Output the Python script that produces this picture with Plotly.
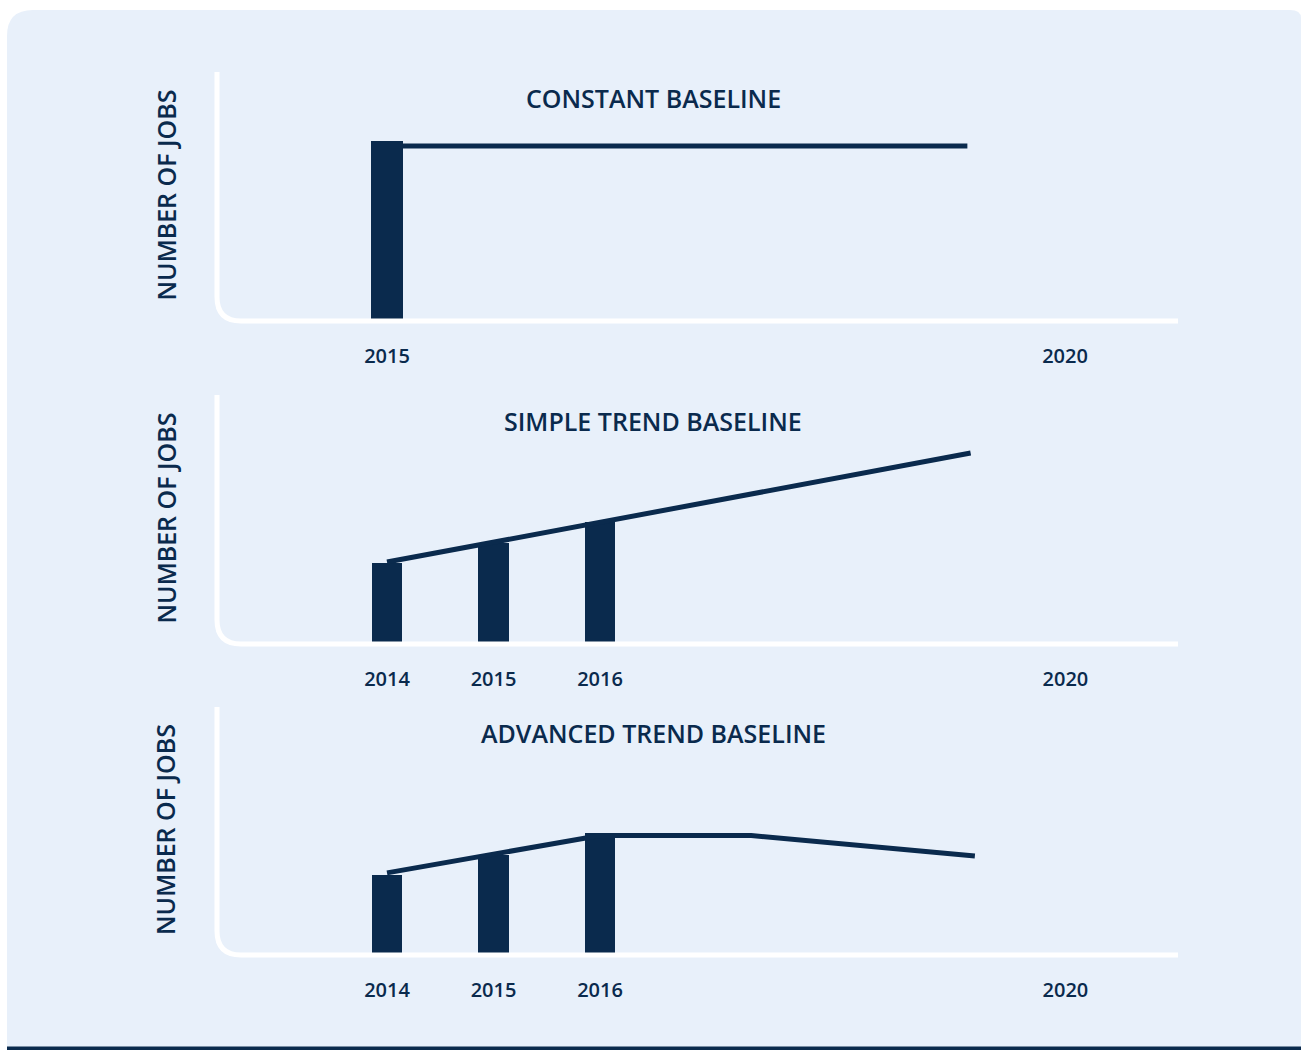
import plotly.graph_objects as go
from plotly.subplots import make_subplots

# ---------------- data ----------------
panel_titles = ["CONSTANT BASELINE", "SIMPLE TREND BASELINE", "ADVANCED TREND BASELINE"]
y_title = "NUMBER OF JOBS"

# bars (observed years)
bars1_x = [2015]
bars1_y = [72.3]
bars2_x = [2014, 2015, 2016]
bars2_y = [32.5, 40.6, 49.0]
bars3_x = [2014, 2015, 2016]
bars3_y = [32.3, 40.3, 49.2]

# baseline projection lines
line1_x = [2015.0, 2019.28]
line1_y = [70.3, 70.3]
line2_x = [2014.0, 2019.48]
line2_y = [32.9, 76.7]
line3_x = [2014.0, 2016.0, 2017.42, 2019.52]
line3_y = [33.1, 48.2, 48.2, 39.9]

# tick labels
ticks1_text = ["2015", "2020"]
ticks1_pos = [2015, 2020]
ticks23_text = ["2014", "2015", "2016", "2020"]
ticks23_pos = [2014, 2015, 2016, 2020.37]

# ---------------- style ----------------
W, H = 1301, 1050
NAVY = "#0a2a4d"
BG = "#e8f0fa"
FONT = "Open Sans"

def px(x):
    return x / W

def py(y):
    return 1 - y / H

# panel geometry in pixels: (top, baseline)
panels = [(72, 321), (395, 644), (707, 955)]
x_left, x_right = 217, 1178

# x scales: (anchor year, anchor pixel, pixels per year, bar width in years)
scales = [(2015, 387, 135.6, 0.229), (2014, 387, 106.5, 0.29), (2014, 387, 106.5, 0.29)]

fig = make_subplots(rows=3, cols=1)

bars = [(bars1_x, bars1_y), (bars2_x, bars2_y), (bars3_x, bars3_y)]
lines = [(line1_x, line1_y), (line2_x, line2_y), (line3_x, line3_y)]
ticks = [(ticks1_pos, ticks1_text), (ticks23_pos, ticks23_text), (ticks23_pos, ticks23_text)]

for i in range(3):
    r = i + 1
    a_year, a_px, ppy, bw = scales[i]
    x0_val = a_year - (a_px - x_left) / ppy
    x1_val = a_year + (x_right - a_px) / ppy
    fig.add_trace(go.Scatter(x=lines[i][0], y=lines[i][1], mode="lines",
                             line=dict(color=NAVY, width=5), hoverinfo="skip",
                             showlegend=False), row=r, col=1)
    fig.add_trace(go.Bar(x=bars[i][0], y=bars[i][1], width=bw,
                         marker=dict(color=NAVY, line=dict(width=0)),
                         showlegend=False), row=r, col=1)
    top, base = panels[i]
    xa = "xaxis" if i == 0 else f"xaxis{r}"
    ya = "yaxis" if i == 0 else f"yaxis{r}"
    fig.layout[xa].update(domain=[px(x_left), px(x_right)], range=[x0_val, x1_val],
                          showgrid=False, zeroline=False, showline=False,
                          tickmode="array", tickvals=ticks[i][0], ticktext=ticks[i][1],
                          ticks="", tickfont=dict(family=FONT, size=20, color=NAVY, weight=600),
                          ticklabelstandoff=21)
    fig.layout[ya].update(domain=[py(base), py(top)], range=[0, 100],
                          showgrid=False, zeroline=False, showline=False,
                          showticklabels=False)
    # axis frame with rounded corner
    r_c = 24
    path = (f"M {px(x_left)} {py(top)} L {px(x_left)} {py(base - r_c)} "
            f"Q {px(x_left)} {py(base)} {px(x_left + r_c)} {py(base)} "
            f"L {px(x_right)} {py(base)}")
    fig.add_shape(type="path", path=path, xref="paper", yref="paper",
                  line=dict(color="white", width=5), layer="above")
    # panel title
    title_y = [98, 421, 733][i]
    fig.add_annotation(text=panel_titles[i], xref="paper", yref="paper",
                       x=px(653), y=py(title_y), showarrow=False,
                       xanchor="center", yanchor="middle",
                       font=dict(family=FONT, size=25, color=NAVY, weight=600))
    # y-axis title
    fig.add_annotation(text=y_title, xref="paper", yref="paper",
                       x=px(165), y=py((top + base) / 2 - 1), showarrow=False,
                       textangle=-90, xanchor="center", yanchor="middle",
                       font=dict(family=FONT, size=25, color=NAVY, weight=600))

# background card
fig.add_shape(type="path",
              path=(f"M {px(7)} {py(1047)} L {px(7)} {py(36)} Q {px(7)} {py(10)} {px(33)} {py(10)} "
                    f"L {px(1290)} {py(10)} Q {px(1301)} {py(10)} {px(1301)} {py(18)} "
                    f"L {px(1301)} {py(1047)} Z"),
              xref="paper", yref="paper", fillcolor=BG, line=dict(width=0), layer="below")
fig.add_shape(type="rect", x0=px(7), x1=1, y0=0, y1=py(1046.5), xref="paper", yref="paper",
              fillcolor=NAVY, line=dict(width=0), layer="below")

fig.update_layout(width=W, height=H, autosize=False,
                  margin=dict(l=0, r=0, t=0, b=0),
                  paper_bgcolor="white", plot_bgcolor="rgba(0,0,0,0)",
                  font=dict(family=FONT, color=NAVY),
                  bargap=0)

fig.write_html("out.html", config={"displayModeBar": False},
               post_script="document.body.style.margin='0';document.body.style.overflow='hidden';")
